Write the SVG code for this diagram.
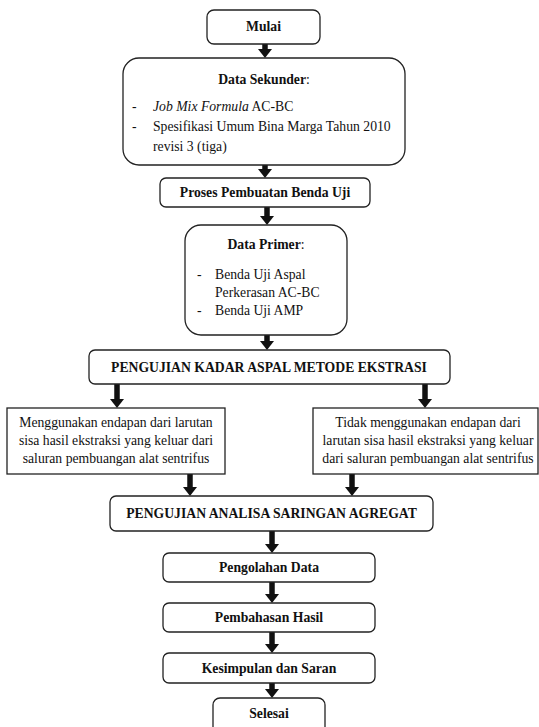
<svg xmlns="http://www.w3.org/2000/svg" width="539" height="727" viewBox="0 0 539 727">
<style>
.box{fill:#fff;stroke:#222;stroke-width:1.3}
text{font-size:13.7px;fill:#111}
.b{font-weight:bold}
.c{text-anchor:middle}
.conn line{stroke:#111;stroke-width:5.5}
</style>
<defs>
<marker id="ah" markerUnits="userSpaceOnUse" markerWidth="9" markerHeight="14" refX="0" refY="7" orient="auto" viewBox="0 0 9 14">
<path d="M0,0 L9,7 L0,14 Z" fill="#111"/>
</marker>
</defs>
<rect width="539" height="727" fill="#fff"/>
<g font-family="Liberation Serif, serif">
<g class="conn" marker-end="url(#ah)">
<line x1="265" y1="44" x2="265" y2="49"/>
<line x1="265" y1="165" x2="265" y2="169"/>
<line x1="267" y1="207" x2="267" y2="216"/>
<line x1="267" y1="335" x2="267" y2="341"/>
<line x1="117" y1="384" x2="117" y2="399"/>
<line x1="425" y1="384" x2="425" y2="399"/>
<line x1="190" y1="474" x2="190" y2="487"/>
<line x1="352" y1="474" x2="352" y2="487"/>
<line x1="272" y1="531" x2="272" y2="544"/>
<line x1="272" y1="582" x2="272" y2="594"/>
<line x1="272" y1="632" x2="272" y2="644"/>
<line x1="272" y1="683" x2="272" y2="689"/>
</g>
<g id="mulai">
<rect class="box" x="207" y="10" width="113" height="34" rx="7"/>
<text class="b c" x="263.5" y="31">Mulai</text>
</g>
<g id="data-sekunder">
<rect class="box" x="123" y="58" width="282" height="107" rx="16"/>
<text class="c" x="264" y="84"><tspan class="b">Data Sekunder</tspan>:</text>
<text x="132" y="111">-</text>
<text x="153" y="111"><tspan font-style="italic">Job Mix Formula</tspan> AC-BC</text>
<text x="132" y="131">-</text>
<text x="153" y="131">Spesifikasi Umum Bina Marga Tahun 2010</text>
<text x="153" y="151">revisi 3 (tiga)</text>
</g>
<g id="proses">
<rect class="box" x="160" y="178" width="210" height="29" rx="6"/>
<text class="b c" x="265" y="197">Proses Pembuatan Benda Uji</text>
</g>
<g id="data-primer">
<rect class="box" x="185" y="225" width="162" height="110" rx="16"/>
<text class="c" x="266" y="249"><tspan class="b">Data Primer</tspan>:</text>
<text x="197" y="279">-</text>
<text x="215" y="279">Benda Uji Aspal</text>
<text x="215" y="297">Perkerasan AC-BC</text>
<text x="197" y="315">-</text>
<text x="215" y="315">Benda Uji AMP</text>
</g>
<g id="kadar">
<rect class="box" x="89" y="350" width="361" height="34" rx="6"/>
<text class="b c" x="269" y="372">PENGUJIAN KADAR ASPAL METODE EKSTRASI</text>
</g>
<g id="menggunakan">
<rect class="box" x="7" y="408" width="218" height="66"/>
<text class="c" x="116" y="427">Menggunakan endapan dari larutan</text>
<text class="c" x="116" y="445">sisa hasil ekstraksi yang keluar dari</text>
<text class="c" x="116" y="463">saluran pembuangan alat sentrifus</text>
</g>
<g id="tidak">
<rect class="box" x="313" y="408" width="225" height="66"/>
<text class="c" x="428" y="427">Tidak menggunakan endapan dari</text>
<text class="c" x="428" y="445">larutan sisa hasil ekstraksi yang keluar</text>
<text class="c" x="428" y="463">dari saluran pembuangan alat sentrifus</text>
</g>
<g id="analisa">
<rect class="box" x="110" y="496" width="323" height="35" rx="6"/>
<text class="b c" x="271.5" y="518">PENGUJIAN ANALISA SARINGAN AGREGAT</text>
</g>
<g id="pengolahan">
<rect class="box" x="163" y="553" width="212" height="29" rx="6"/>
<text class="b c" x="269" y="572">Pengolahan Data</text>
</g>
<g id="pembahasan">
<rect class="box" x="163" y="603" width="212" height="29" rx="6"/>
<text class="b c" x="269" y="622">Pembahasan Hasil</text>
</g>
<g id="kesimpulan">
<rect class="box" x="163" y="653" width="212" height="30" rx="6"/>
<text class="b c" x="269" y="673">Kesimpulan dan Saran</text>
</g>
<g id="selesai">
<rect class="box" x="213" y="698" width="112" height="40" rx="7"/>
<text class="b c" x="269" y="718">Selesai</text>
</g>
</g>
</svg>
